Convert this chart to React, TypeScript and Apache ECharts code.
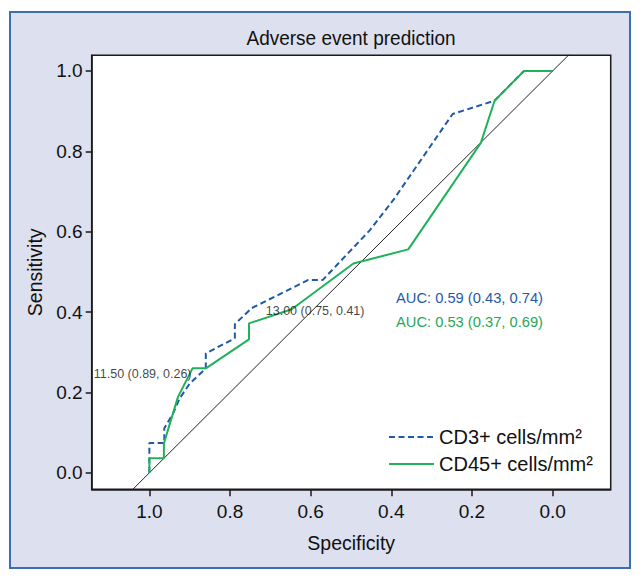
import React, { useEffect, useRef } from "react";
import * as echarts from "echarts";

// Tick values
const xTicks = [1.0, 0.8, 0.6, 0.4, 0.2, 0.0];
const yTicks = [0.0, 0.2, 0.4, 0.6, 0.8, 1.0];

// ROC curve: CD3+ cells/mm2 (specificity, sensitivity)
const cd3Spec = [1.0, 1.0, 0.963, 0.963, 0.941, 0.925, 0.9, 0.86, 0.86, 0.788, 0.788, 0.746, 0.606, 0.57, 0.453, 0.395, 0.248, 0.144, 0.071, 0.0];
const cd3Sens = [0.0, 0.074, 0.074, 0.111, 0.148, 0.185, 0.222, 0.26, 0.297, 0.335, 0.37, 0.41, 0.48, 0.48, 0.604, 0.679, 0.893, 0.926, 1.0, 1.0];

// ROC curve: CD45+ cells/mm2
const cd45Spec = [1.0, 1.0, 0.964, 0.964, 0.949, 0.929, 0.893, 0.86, 0.753, 0.753, 0.647, 0.494, 0.358, 0.178, 0.144, 0.071, 0.0];
const cd45Sens = [0.0, 0.036, 0.036, 0.073, 0.123, 0.189, 0.26, 0.26, 0.332, 0.372, 0.407, 0.521, 0.556, 0.821, 0.926, 1.0, 1.0];

// Reference diagonal (sensitivity = 1 - specificity)
const diagSpec = [1.3, -0.3];
const diagSens = [-0.3, 1.3];

// Best thresholds
const thrValue = [13.0, 11.5];
const thrSpec = [0.746, 0.893];
const thrSens = [0.41, 0.26];

const seriesNames = ["CD3+ cells/mm\u00B2", "CD45+ cells/mm\u00B2"];
const aucTexts = ["AUC: 0.59 (0.43, 0.74)", "AUC: 0.53 (0.37, 0.69)"];

const BLUE = "#1f5aa8";
const GREEN = "#1fb25a";
const FONT = "'Liberation Sans', Arial, sans-serif";

const zip = (a: number[], b: number[]) => a.map((v, i) => [v, b[i]]);

export default function App() {
  const ref = useRef<HTMLDivElement>(null);
  useEffect(() => {
    document.body.style.margin = "0";
    const chart = echarts.init(ref.current!, undefined, { renderer: "svg" });
    const option: any = {
      animation: false,
      textStyle: { fontFamily: FONT },
      graphic: [
        {
          type: "rect",
          z: -100,
          shape: { x: 10, y: 12, width: 620, height: 556 },
          style: { fill: "#dde0ee", stroke: "#3a6fb4", lineWidth: 2 },
        },
        {
          type: "text",
          x: 351,
          y: 38,
          scaleY: 1.1,
          style: {
            text: "Adverse event prediction",
            fontFamily: FONT,
            fontSize: 19,
            fill: "#111",
            align: "center",
            verticalAlign: "middle",
          },
        },
        {
          type: "text",
          x: 396,
          y: 298,
          z: 10,
          style: { text: aucTexts[0], fontFamily: FONT, fontSize: 14.7, fill: BLUE, align: "left", verticalAlign: "middle" },
        },
        {
          type: "text",
          x: 396,
          y: 322,
          z: 10,
          style: { text: aucTexts[1], fontFamily: FONT, fontSize: 14.7, fill: "#22a958", align: "left", verticalAlign: "middle" },
        },
      ],
      grid: {
        left: 91.7,
        right: 32.3,
        top: 55.3,
        bottom: 91.7,
        show: true,
        backgroundColor: "#ffffff",
        borderColor: "#1a1a1a",
        borderWidth: 1.5,
      },
      legend: {
        data: seriesNames,
        orient: "vertical",
        left: 388,
        top: 427,
        padding: 0,
        itemWidth: 45,
        itemHeight: 14,
        itemGap: 7,
        itemStyle: { opacity: 0, color: "rgba(0,0,0,0)", borderWidth: 0 },
        textStyle: { fontFamily: FONT, fontSize: 20, color: "#111", lineHeight: 20 },
      },
      xAxis: {
        type: "value",
        inverse: true,
        min: -0.144,
        max: 1.143,
        name: "Specificity",
        nameLocation: "middle",
        nameGap: 44,
        nameTextStyle: { fontFamily: FONT, fontSize: 19.5, color: "#111" },
        axisLine: { show: true, onZero: false, lineStyle: { color: "#1a1a1a", width: 1.5 } },
        axisTick: { show: true, customValues: xTicks, length: 7, lineStyle: { color: "#1a1a1a", width: 1.5 } },
        axisLabel: {
          customValues: xTicks,
          formatter: (v: number) => v.toFixed(1),
          fontFamily: FONT,
          fontSize: 19,
          color: "#111",
          margin: 13,
        },
        splitLine: { show: false },
      },
      yAxis: {
        type: "value",
        min: -0.041,
        max: 1.039,
        name: "Sensitivity",
        nameLocation: "middle",
        nameGap: 46,
        nameTextStyle: { fontFamily: FONT, fontSize: 19.5, color: "#111" },
        axisLine: { show: true, onZero: false, lineStyle: { color: "#1a1a1a", width: 1.5 } },
        axisTick: { show: true, customValues: yTicks, length: 6, lineStyle: { color: "#1a1a1a", width: 1.5 } },
        axisLabel: {
          customValues: yTicks,
          formatter: (v: number) => v.toFixed(1),
          fontFamily: FONT,
          fontSize: 19,
          color: "#111",
          margin: 9,
        },
        splitLine: { show: false },
      },
      series: [
        {
          type: "line",
          name: "diag",
          data: zip(diagSpec, diagSens),
          symbol: "none",
          clip: true,
          lineStyle: { color: "#222", width: 1 },
          silent: true,
          z: 1,
        },
        {
          type: "line",
          name: seriesNames[0],
          data: zip(cd3Spec, cd3Sens),
          symbol: "none",
          clip: true,
          color: BLUE,
          lineStyle: { color: BLUE, width: 2, type: [6, 3.5] },
          z: 2,
        },
        {
          type: "line",
          name: seriesNames[1],
          data: zip(cd45Spec, cd45Sens),
          symbol: "none",
          clip: true,
          color: GREEN,
          lineStyle: { color: GREEN, width: 2 },
          z: 3,
        },
        {
          type: "scatter",
          name: "thresholds",
          symbolSize: 0,
          silent: true,
          z: 5,
          data: thrValue.map((t, i) => ({
            value: [thrSpec[i], thrSens[i]],
            label: {
              show: true,
              position: i === 0 ? "right" : "left",
              distance: i === 0 ? 14 : 1,
              offset: i === 0 ? [0, 3] : [0, 6],
              formatter: `${t.toFixed(2)} (${thrSpec[i].toFixed(2)}, ${thrSens[i].toFixed(2)})`,
              fontFamily: FONT,
              fontSize: 12.5,
              color: "#111",
            },
          })),
        },
      ],
    };
    chart.setOption(option);
    return () => chart.dispose();
  }, []);
  return <div ref={ref} style={{ width: 643, height: 581 }} />;
}
